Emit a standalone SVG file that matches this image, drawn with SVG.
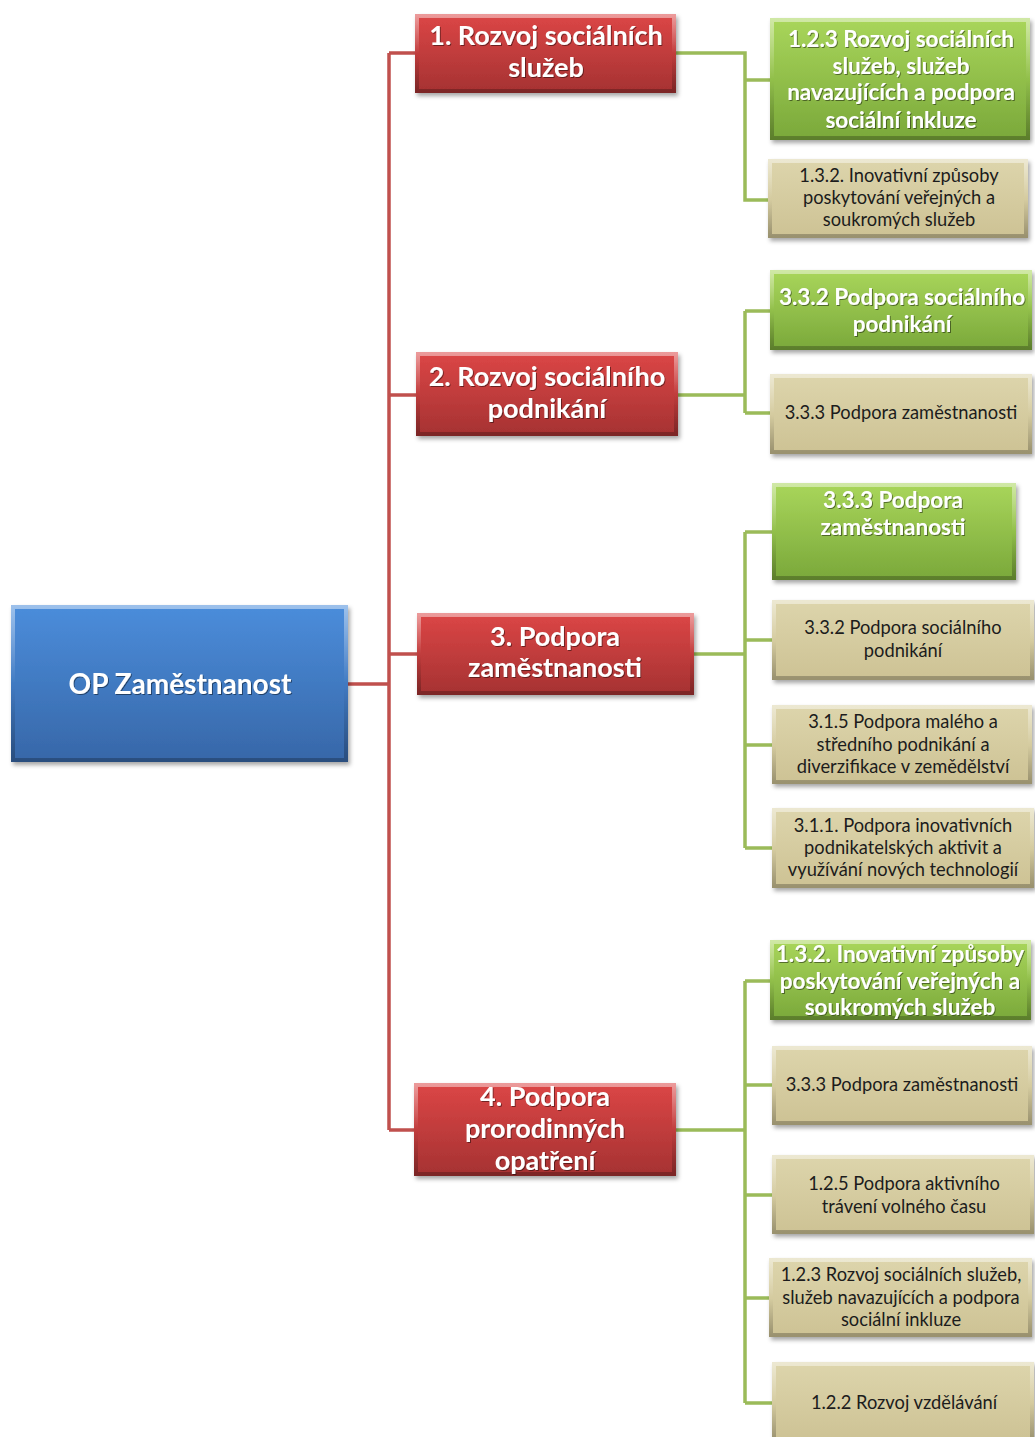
<svg xmlns="http://www.w3.org/2000/svg" width="1035" height="1437" viewBox="0 0 1035 1437">
<defs>
<linearGradient id="gBlue" x1="0" y1="0" x2="0" y2="1"><stop offset="0" stop-color="#4b8ddb"/><stop offset="1" stop-color="#3767a8"/></linearGradient>
<linearGradient id="gRed" x1="0" y1="0" x2="0" y2="1"><stop offset="0" stop-color="#dc4646"/><stop offset="1" stop-color="#a53232"/></linearGradient>
<linearGradient id="gGreen" x1="0" y1="0" x2="0" y2="1"><stop offset="0" stop-color="#a9d65b"/><stop offset="1" stop-color="#7aa83a"/></linearGradient>
<linearGradient id="gTan" x1="0" y1="0" x2="0" y2="1"><stop offset="0" stop-color="#ddd5ac"/><stop offset="1" stop-color="#cdc294"/></linearGradient>
<linearGradient id="bev" x1="0" y1="0" x2="0" y2="1"><stop offset="0" stop-color="#ffffff" stop-opacity="0.45"/><stop offset="0.5" stop-color="#ffffff" stop-opacity="0"/><stop offset="0.51" stop-color="#000000" stop-opacity="0"/><stop offset="1" stop-color="#000000" stop-opacity="0.25"/></linearGradient>
<filter id="sh" x="-10%" y="-10%" width="125%" height="130%"><feDropShadow dx="2" dy="3" stdDeviation="2" flood-color="#000" flood-opacity="0.35"/></filter>
<filter id="ts" x="-5%" y="-20%" width="110%" height="150%"><feDropShadow dx="1" dy="1" stdDeviation="0.6" flood-color="#000" flood-opacity="0.45"/></filter>
</defs>
<style>
.box{filter:url(#sh)}
.bev{fill:none;stroke:url(#bev);stroke-width:4}
.blue{fill:url(#gBlue)}
.red{fill:url(#gRed)}
.green{fill:url(#gGreen)}
.tan{fill:url(#gTan)}
.tw{font-family:Lato,"Liberation Sans",sans-serif;font-weight:bold;fill:#fff;text-anchor:middle;filter:url(#ts)}
.t0{font-size:28px}
.t1{font-size:27px}
.t2{font-size:22.5px}
.td{font-family:Lato,"Liberation Sans",sans-serif;font-size:18.3px;fill:#1c1c1c;text-anchor:middle}
.cr{fill:none;stroke:#c0504d;stroke-width:3.5}
.cg{fill:none;stroke:#9bbb59;stroke-width:3.5}
</style>

<g id="connectors">
<path class="cr" d="M348 684 H389 M389 53 V1130 M389 53 H415 M389 395 H416 M389 654 H417 M389 1130 H414"/>
<path class="cg" d="M676 53 H745 V200 H768 M745 80 H770"/>
<path class="cg" d="M678 395 H745 M745 311 V413 M745 311 H770 M745 413 H770"/>
<path class="cg" d="M694 654 H745 M745 532 V848 M745 532 H772 M745 640 H772 M745 745 H772 M745 848 H772"/>
<path class="cg" d="M676 1130 H745 M745 981 V1403 M745 981 H770 M745 1085 H772 M745 1195 H772 M745 1298 H769 M745 1403 H772"/>
</g>

<g id="root"><rect class="box blue" x="11" y="605" width="337" height="157"/><rect class="bev" x="13" y="607" width="333" height="153"/>
<text class="tw t0" x="180" y="694">OP Zaměstnanost</text></g>

<g id="r1"><rect class="box red" x="415" y="14" width="261" height="79"/><rect class="bev" x="417" y="16" width="257" height="75"/>
<text class="tw t1" x="546" y="45">1. Rozvoj sociálních</text><text class="tw t1" x="546" y="77">služeb</text></g>
<g id="r2"><rect class="box red" x="416" y="352" width="262" height="84"/><rect class="bev" x="418" y="354" width="258" height="80"/>
<text class="tw t1" x="547" y="386">2. Rozvoj sociálního</text><text class="tw t1" x="547" y="418">podnikání</text></g>
<g id="r3"><rect class="box red" x="417" y="613" width="277" height="82"/><rect class="bev" x="419" y="615" width="273" height="78"/>
<text class="tw t1" x="555" y="646">3. Podpora</text><text class="tw t1" x="555" y="677">zaměstnanosti</text></g>
<g id="r4"><rect class="box red" x="414" y="1083" width="262" height="93"/><rect class="bev" x="416" y="1085" width="258" height="89"/>
<text class="tw t1" x="545" y="1106">4. Podpora</text><text class="tw t1" x="545" y="1138">prorodinných</text><text class="tw t1" x="545" y="1170">opatření</text></g>

<g id="g1"><rect class="box green" x="770" y="18" width="260" height="122"/><rect class="bev" x="772" y="20" width="256" height="118"/>
<text class="tw t2" x="901" y="47">1.2.3 Rozvoj sociálních</text><text class="tw t2" x="901" y="74">služeb, služeb</text><text class="tw t2" x="901" y="100">navazujících a podpora</text><text class="tw t2" x="901" y="128">sociální inkluze</text></g>
<g id="t1"><rect class="box tan" x="768" y="159" width="260" height="79"/><rect class="bev" x="770" y="161" width="256" height="75"/>
<text class="td" x="899" y="182">1.3.2. Inovativní  způsoby</text><text class="td" x="899" y="204">poskytování veřejných a</text><text class="td" x="899" y="226">soukromých služeb</text></g>

<g id="g2"><rect class="box green" x="770" y="270" width="262" height="80"/><rect class="bev" x="772" y="272" width="258" height="76"/>
<text class="tw t2" x="902" y="305">3.3.2 Podpora sociálního</text><text class="tw t2" x="902" y="332">podnikání</text></g>
<g id="t2"><rect class="box tan" x="770" y="374" width="262" height="80"/><rect class="bev" x="772" y="376" width="258" height="76"/>
<text class="td" x="901" y="419">3.3.3 Podpora zaměstnanosti</text></g>

<g id="g3"><rect class="box green" x="772" y="483" width="244" height="97"/><rect class="bev" x="774" y="485" width="240" height="93"/>
<text class="tw t2" x="893" y="508">3.3.3 Podpora</text><text class="tw t2" x="893" y="535">zaměstnanosti</text></g>
<g id="t3a"><rect class="box tan" x="772" y="600" width="262" height="80"/><rect class="bev" x="774" y="602" width="258" height="76"/>
<text class="td" x="903" y="634">3.3.2 Podpora sociálního</text><text class="td" x="903" y="657">podnikání</text></g>
<g id="t3b"><rect class="box tan" x="772" y="705" width="260" height="79"/><rect class="bev" x="774" y="707" width="256" height="75"/>
<text class="td" x="903" y="728">3.1.5 Podpora malého a</text><text class="td" x="903" y="751">středního podnikání a</text><text class="td" x="903" y="773">diverzifikace v zemědělství</text></g>
<g id="t3c"><rect class="box tan" x="772" y="808" width="262" height="80"/><rect class="bev" x="774" y="810" width="258" height="76"/>
<text class="td" x="903" y="832">3.1.1. Podpora inovativních</text><text class="td" x="903" y="854">podnikatelských aktivit a</text><text class="td" x="903" y="876">využívání nových technologií</text></g>

<g id="g4"><rect class="box green" x="770" y="940" width="261" height="80"/><rect class="bev" x="772" y="942" width="257" height="76"/>
<text class="tw t2" x="900" y="962">1.3.2. Inovativní způsoby</text><text class="tw t2" x="900" y="989">poskytování veřejných a</text><text class="tw t2" x="900" y="1015">soukromých služeb</text></g>
<g id="t4a"><rect class="box tan" x="772" y="1046" width="260" height="79"/><rect class="bev" x="774" y="1048" width="256" height="75"/>
<text class="td" x="902" y="1091">3.3.3 Podpora zaměstnanosti</text></g>
<g id="t4b"><rect class="box tan" x="772" y="1155" width="262" height="79"/><rect class="bev" x="774" y="1157" width="258" height="75"/>
<text class="td" x="904" y="1190">1.2.5 Podpora aktivního</text><text class="td" x="904" y="1213">trávení volného času</text></g>
<g id="t4c"><rect class="box tan" x="769" y="1258" width="263" height="79"/><rect class="bev" x="771" y="1260" width="259" height="75"/>
<text class="td" x="901" y="1281">1.2.3 Rozvoj sociálních služeb,</text><text class="td" x="901" y="1304">služeb navazujících a podpora</text><text class="td" x="901" y="1326">sociální inkluze</text></g>
<g id="t4d"><rect class="box tan" x="772" y="1362" width="262" height="80"/><rect class="bev" x="774" y="1364" width="258" height="76"/>
<text class="td" x="904" y="1409">1.2.2 Rozvoj vzdělávání</text></g>
</svg>
